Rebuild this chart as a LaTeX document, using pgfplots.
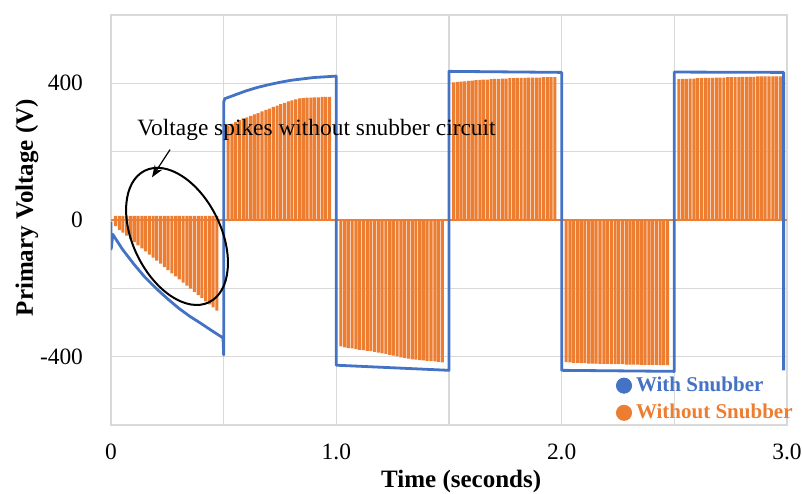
\documentclass[border=0pt]{standalone}
\usepackage{pgfplots}
\pgfplotsset{compat=1.18}
\usepackage{pgfplotstable}
\usepackage{fontspec}
\setmainfont{Liberation Serif}
\usetikzlibrary{arrows.meta}

\definecolor{snubblue}{HTML}{4472C4}
\definecolor{spikeorange}{HTML}{ED7D31}
\definecolor{gridgray}{HTML}{D9D9D9}

% Primary voltage without snubber: one spike per switching event
% t = time (s), v = spike peak (V), r = small overshoot of opposite sign (V)
\pgfplotstableread{
t     v     r
0.020 -18   12
0.037 -30   12
0.053 -37   12
0.070 -46   12
0.087 -56   12
0.103 -65   12
0.120 -74   12
0.137 -83   12
0.153 -92   12
0.170 -101  12
0.187 -110  12
0.203 -119  12
0.220 -128  12
0.237 -138  12
0.253 -147  12
0.270 -156  12
0.287 -165  12
0.303 -174  12
0.320 -183  12
0.337 -192  12
0.353 -201  12
0.370 -210  12
0.387 -220  12
0.403 -229  12
0.420 -238  12
0.437 -247  12
0.453 -256  12
0.470 -265  12
0.520 275   0
0.537 282   0
0.553 287   0
0.570 292   0
0.587 297   0
0.603 300   0
0.620 305   0
0.637 309   0
0.653 313   0
0.670 318   0
0.687 322   0
0.703 326   0
0.720 331   0
0.737 335   0
0.753 339   0
0.770 343   0
0.787 347   0
0.803 350   0
0.820 353   0
0.837 356   0
0.853 357   0
0.870 358   0
0.887 358   0
0.903 359   0
0.920 359   0
0.937 360   0
0.953 360   0
0.970 360   0
1.020 -370  0
1.037 -373  0
1.053 -375  0
1.070 -376  0
1.087 -378  0
1.103 -380  0
1.120 -381  0
1.137 -383  0
1.153 -384  0
1.170 -386  0
1.187 -388  0
1.203 -390  0
1.220 -392  0
1.237 -395  0
1.253 -397  0
1.270 -399  0
1.287 -402  0
1.303 -404  0
1.320 -406  0
1.337 -408  0
1.353 -409  0
1.370 -410  0
1.387 -411  0
1.403 -412  0
1.420 -413  0
1.437 -414  0
1.453 -415  0
1.470 -417  0
1.520 403   0
1.537 404   0
1.553 405   0
1.570 406   0
1.587 407   0
1.603 408   0
1.620 409   0
1.637 410   0
1.653 411   0
1.670 411   0
1.687 412   0
1.703 413   0
1.720 413   0
1.737 414   0
1.753 414   0
1.770 415   0
1.787 415   0
1.803 416   0
1.820 416   0
1.837 416   0
1.853 417   0
1.870 417   0
1.887 417   0
1.903 417   0
1.920 418   0
1.937 418   0
1.953 418   0
1.970 418   0
2.020 -416  0
2.037 -417  0
2.053 -418  0
2.070 -418  0
2.087 -419  0
2.103 -419  0
2.120 -420  0
2.137 -420  0
2.153 -420  0
2.170 -421  0
2.187 -421  0
2.203 -421  0
2.220 -422  0
2.237 -422  0
2.253 -422  0
2.270 -422  0
2.287 -423  0
2.303 -423  0
2.320 -423  0
2.337 -423  0
2.353 -424  0
2.370 -424  0
2.387 -424  0
2.403 -424  0
2.420 -424  0
2.437 -425  0
2.453 -425  0
2.470 -425  0
2.520 412   0
2.537 413   0
2.553 413   0
2.570 414   0
2.587 414   0
2.603 415   0
2.620 415   0
2.637 416   0
2.653 416   0
2.670 416   0
2.687 417   0
2.703 417   0
2.720 417   0
2.737 418   0
2.753 418   0
2.770 418   0
2.787 418   0
2.803 419   0
2.820 419   0
2.837 419   0
2.853 419   0
2.870 420   0
2.887 420   0
2.903 420   0
2.920 420   0
2.937 420   0
2.953 420   0
2.970 420   0
}\nosnubber

\begin{document}
\begin{tikzpicture}
\begin{axis}[
  scale only axis,
  width=338pt, height=205pt,
  xmin=0, xmax=3, ymin=-600, ymax=600,
  xtick={0,0.5,1,1.5,2,2.5,3},
  xticklabels={0,,1.0,,2.0,,3.0},
  ytick={-600,-400,-200,0,200,400,600},
  yticklabels={,-400,,0,,400,},
  grid=major,
  major grid style={draw=gridgray, line width=0.6pt},
  axis line style={draw=gridgray, line width=0.6pt},
  major tick length=0pt,
  tick label style={font=\fontsize{11.7}{14}\selectfont, text=black},
  yticklabel style={xshift=-10.5pt},
  xticklabel style={yshift=-6pt},
  xlabel={Time (seconds)},
  ylabel={Primary Voltage (V)},
  xlabel style={at={([yshift=-19pt]axis description cs:0.518,0)}, anchor=north,
    font=\fontsize{12.5}{15}\selectfont\bfseries},
  ylabel style={at={([xshift=-42pt]axis description cs:0,0.53)}, anchor=center,
    font=\fontsize{12.5}{15}\selectfont\bfseries},
  legend style={at={([xshift=5pt,yshift=-0.5pt]axis description cs:1,0)}, anchor=south east,
    draw=none, fill=none, inner sep=0pt, row sep=0.8pt,
    font=\fontsize{10.5}{12}\selectfont\bfseries},
  legend cell align=left,
]
\addlegendimage{snubblue, legend image code/.code={\fill (0.25cm,0cm) circle (3.8pt);}}
\addlegendentry{\textcolor{snubblue}{With Snubber}}
\addlegendimage{spikeorange, legend image code/.code={\fill (0.25cm,0cm) circle (3.8pt);}}
\addlegendentry{\textcolor{spikeorange}{Without Snubber}}

% switching spikes without snubber
\addplot[forget plot, ybar, bar shift=0pt, bar width=0.0138, fill=spikeorange, draw=none]
  table[x=t, y=v] {\nosnubber};
\addplot[forget plot, ybar, bar shift=0pt, bar width=0.0138, fill=spikeorange, draw=none]
  table[x=t, y=r] {\nosnubber};
\addplot[forget plot, spikeorange, line width=1.2pt] coordinates {(0,0) (3,0)};

% square wave with snubber
\addplot[forget plot, snubblue, line width=1.4pt, line join=round] coordinates {
  (0,-5) (0.001,-85) (0.008,-42) (0.05,-85) (0.1,-128) (0.15,-167) (0.2,-200)
  (0.25,-230) (0.3,-258) (0.35,-282) (0.4,-303) (0.45,-325) (0.497,-345)
  (0.5,-395) (0.5,345) (0.505,355) (0.55,366) (0.6,378) (0.65,388) (0.7,396)
  (0.75,403) (0.8,409) (0.85,413) (0.9,417) (0.95,419) (0.995,421) (1.0,421)
  (1.0,-425) (1.5,-440) (1.5,435) (2.0,432) (2.0,-440) (2.5,-443) (2.5,433)
  (2.985,432) (2.985,-440)
};

% annotation
\node[anchor=west, inner sep=0pt, font=\fontsize{11.7}{14}\selectfont]
  at (axis cs:0.115,265) {Voltage spikes without snubber circuit};
\draw[-{Stealth[length=6pt,width=4.5pt]}, line width=0.6pt]
  (axis cs:0.262,206) -- (axis cs:0.182,125);
\draw[line width=1pt, rotate around={26:(axis cs:0.293,-48)}]
  (axis cs:0.293,-48) ellipse [x radius=22pt, y radius=36.6pt];

\coordinate (pa-sw) at (rel axis cs:0,0);
\coordinate (pa-ne) at (rel axis cs:1,1);
\end{axis}
\pgfresetboundingbox
\path[use as bounding box] ([xshift=-55.5pt,yshift=-34pt]pa-sw) rectangle ([xshift=7.5pt,yshift=7.5pt]pa-ne);
\end{tikzpicture}
\end{document}
